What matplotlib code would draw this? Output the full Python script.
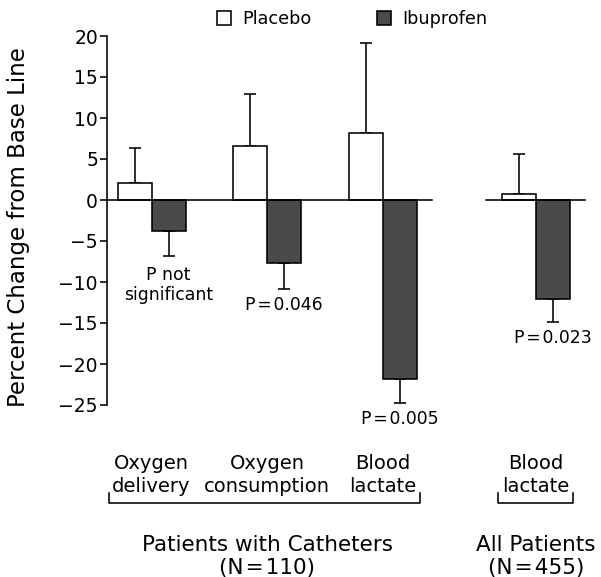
import matplotlib
matplotlib.use("Agg")
import matplotlib.pyplot as plt
import matplotlib.transforms as mtransforms
from matplotlib.patches import Patch
from matplotlib.lines import Line2D
import numpy as np

plt.rcParams['font.family'] = ['DejaVu Sans']

# ---- data ----
categories = [("Oxygen", "delivery"), ("Oxygen", "consumption"), ("Blood", "lactate"), ("Blood", "lactate")]
placebo = [2.1, 6.6, 8.2, 0.7]
placebo_err = [4.2, 6.3, 10.9, 4.9]
ibuprofen = [-3.8, -7.7, -21.8, -12.1]
ibuprofen_err = [3.0, 3.2, 3.0, 2.8]
p_labels = ["P not\nsignificant", "P\u200a=\u200a0.046", "P\u200a=\u200a0.005", "P\u200a=\u200a0.023"]
group_labels = [("Patients with Catheters", "(N\u200a=\u200a110)"), ("All Patients", "(N\u200a=\u200a455)")]
yticks = [20, 15, 10, 5, 0, -5, -10, -15, -20, -25]

W, H = 601, 577
fig = plt.figure(figsize=(W / 100, H / 100), dpi=100)
ax = fig.add_axes([107 / W, 1 - 405 / H, 1 - 107 / W, (405 - 36) / H])

x = np.array([0, 3.4, 6.8, 11.3])
bw = 1.0
lw = 1.15
dark = "#4a4a4a"

ax.bar(x - bw / 2, placebo, width=bw, color="white", edgecolor="black", linewidth=lw, zorder=3)
ax.bar(x + bw / 2, ibuprofen, width=bw, color=dark, edgecolor="black", linewidth=lw, zorder=3)
ax.errorbar(x - bw / 2, placebo, yerr=[np.zeros(4), placebo_err], fmt="none", ecolor="black",
            elinewidth=lw, capsize=4, capthick=lw, zorder=2)
ax.errorbar(x + bw / 2, ibuprofen, yerr=[ibuprofen_err, np.zeros(4)], fmt="none", ecolor="black",
            elinewidth=lw, capsize=4, capthick=lw, zorder=2)

xmin = -1.31
ax.set_xlim(xmin, xmin + (W - 107) / 34)
ax.set_ylim(-25, 20)

# zero lines
ax.plot([xmin, x[2] + 1.45], [0, 0], color="black", lw=lw, zorder=4, clip_on=False)
ax.plot([x[3] - 1.45, x[3] + 1.45], [0, 0], color="black", lw=lw, zorder=4, clip_on=False)

for s in ["top", "right", "bottom"]:
    ax.spines[s].set_visible(False)
ax.spines["left"].set_linewidth(lw)
ax.set_xticks([])
ax.set_yticks(yticks)
ax.tick_params(axis="y", length=5, width=lw, labelsize=13.5, pad=1.5)

# p-value labels
pfs = 12.4
first, second = p_labels[0].split("\n")
ax.text(x[0] + bw / 2, -9.76, first, ha="center", va="baseline", fontsize=pfs)
ax.text(x[0] + bw / 2, -12.2, second, ha="center", va="baseline", fontsize=pfs)
for i in range(1, 4):
    ax.text(x[i] + bw / 2, ibuprofen[i] - ibuprofen_err[i] - 2.56, p_labels[i], ha="center",
            va="baseline", fontsize=pfs)

# below-axis labels
tr = mtransforms.blended_transform_factory(ax.transData, fig.transFigure)
def fy(px):
    return 1 - px / H

for i, (l1, l2) in enumerate(categories):
    ax.text(x[i], fy(469), l1, ha="center", va="baseline", fontsize=14, transform=tr, clip_on=False)
    ax.text(x[i], fy(492), l2, ha="center", va="baseline", fontsize=14, transform=tr, clip_on=False)

brackets = [(x[0] - 1.25, x[2] + 1.1), (x[3] - 1.1, x[3] + 1.1)]
for a, b in brackets:
    ln = Line2D([a, a, b, b], [fy(493), fy(503), fy(503), fy(493)], color="black", lw=lw,
                transform=tr, clip_on=False)
    ax.add_line(ln)

for gx, (l1, l2) in zip([x[1], x[3]], group_labels):
    ax.text(gx, fy(551), l1, ha="center", va="baseline", fontsize=15.5, transform=tr, clip_on=False)
    ax.text(gx, fy(574), l2, ha="center", va="baseline", fontsize=15.5, transform=tr, clip_on=False)

fig.text(19 / W, fy(227), "Percent Change from Base Line", rotation=90, ha="center", va="center",
         fontsize=16.5)

handles = [Patch(facecolor="white", edgecolor="black", linewidth=lw, label="Placebo"),
           Patch(facecolor=dark, edgecolor="black", linewidth=lw, label="Ibuprofen")]
fig.legend(handles=handles, loc="upper left", bbox_to_anchor=(217 / W, fy(10)), ncol=2,
           frameon=False, fontsize=12.7, handlelength=0.8, handleheight=0.8, handletextpad=0.65,
           columnspacing=3.7, borderpad=0, borderaxespad=0)

fig.savefig("out.png", dpi=100)
